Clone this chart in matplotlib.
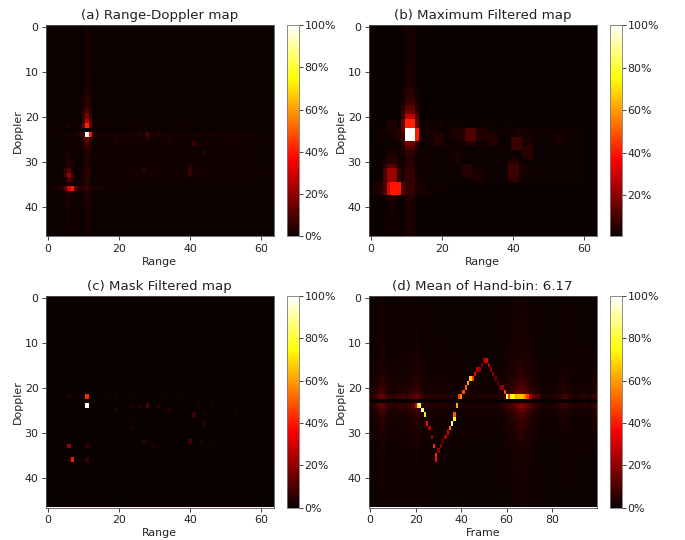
import numpy as np
import matplotlib
matplotlib.use("Agg")
import matplotlib.pyplot as plt

N_DOPPLER, N_RANGE, N_FRAME = 47, 64, 100

# Local peaks: doppler row, range column, percent
peak_rows = [22, 24, 33, 36, 33, 36, 22, 24, 24, 24, 24, 25, 25, 22, 22, 26, 24, 25, 24, 28,
             25, 29, 27, 32, 33, 32, 32, 32, 33, 36, 22, 22, 22]
peak_cols = [11, 11, 6, 7, 11, 11, 6, 28, 26, 24, 31, 34, 19, 19, 16, 41, 42, 44, 46, 44,
             53, 24, 24, 27, 30, 40, 43, 47, 54, 16, 38, 33, 24]
peak_vals = [42, 100, 22, 40, 7, 7, 3.5, 11, 4, 3, 4, 4, 4, 2, 1.6, 8, 3, 3, 2, 5,
             2.5, 2.5, 1.6, 4.5, 3.5, 8, 2.5, 1.6, 1.2, 1.2, 1.6, 1.6, 1.6]

# Non-peak cells of panel (a) around the peaks
extra_rows = [36, 36, 36, 36, 33, 32, 34, 32, 33, 34, 22, 22, 21, 25, 21, 26, 25, 24, 25, 31, 33, 32]
extra_cols = [6, 8, 5, 4, 5, 6, 6, 5, 7, 7, 10, 12, 11, 11, 10, 41, 28, 10, 12, 40, 40, 41]
extra_vals = [32, 10, 10, 4, 10, 12, 12, 5, 7, 6, 14, 14, 28, 16, 5, 4, 4.5, 8, 6, 4.5, 6, 2.5]

# Streak along range column 11, one value per doppler row
col11_profile = [2.5, 2.5, 2.5, 2.5, 2.5, 2.5, 2.5, 2.5, 2.5, 2.5, 3, 3, 3, 3, 3.5, 4.5, 5, 6, 8, 12, 17, 28, 42, 1.5,
                 100, 16, 10, 7, 5, 4.5, 4.5, 4.5, 5, 7, 5, 4.5, 7, 4.5, 3.5, 3.5, 3.5, 3, 3, 3, 3, 3, 3]
# Streak along range column 6
col6_rows = [26, 27, 28, 29, 30, 31, 37, 38, 39, 40, 41, 42, 43, 44, 45, 46]
col6_vals = [1.2, 1.5, 2, 3, 4, 5, 4, 2.5, 2.5, 2.5, 2, 2, 2, 1.6, 1.6, 1.6]
# Horizontal streaks
row36_cols = [0, 1, 2, 3, 9, 10, 12, 13, 14, 15, 16, 17, 18, 19, 20, 21]
row36_vals = [1.2, 1.5, 3, 3, 4, 4, 3, 2.5, 2.5, 2, 2, 1.6, 1.6, 1.4, 1.4, 1.2]
row24_cols = [2, 3, 4, 5, 6, 7, 8, 9, 13, 14, 15, 16, 17, 18, 19, 20, 21, 22, 23, 25, 27, 29, 30, 32, 33, 35, 36,
              37, 38, 39, 40, 41, 43, 45, 47, 48, 49, 50, 51, 52, 54, 55, 56, 57, 58]
row24_vals = [1.2, 1.5, 1.5, 1.5, 1.5, 2, 3, 4, 3, 2.5, 2, 2, 1.6, 1.6, 1.6, 1.6, 1.6, 1.6, 2, 2, 2, 2, 2, 2, 1.6, 1.6, 1.6,
              1.6, 1.6, 1.6, 1.6, 1.6, 1.6, 1.6, 1.6, 1.6, 1.2, 1.6, 1.6, 1.6, 1.6, 1.2, 1.2, 1.2, 1.2]
# Faint wash, range columns per doppler block
wash_rows = [25, 26, 27, 28, 29, 30, 31, 32, 33, 34, 35]
wash_vals = [2, 2, 1.6, 1.6, 1.6, 1.6, 1.6, 2, 2, 1.6, 1.4]
# Dark row under the strongest return
dark_row = 23
dark_cols = [4, 22]

# Panel (d): ridge of the hand-bin across frames
ridge_frames = [20, 21, 22, 23, 24, 25, 26, 27, 28, 29, 29, 30, 31, 32, 33, 34, 35, 36, 37, 37, 38,
                39, 40, 41, 42, 43, 44, 45, 46, 47, 48, 49, 50, 51, 52, 53, 54, 55, 56, 57, 58, 59,
                60, 61, 62, 63, 64, 65, 66, 67, 68, 69, 70, 71, 72, 73, 74]
ridge_rows = [24, 24, 24, 25, 26, 28, 29, 31, 33, 35, 36, 34, 33, 32, 31, 30, 29, 28, 27, 26, 24,
              22, 22, 21, 20, 19, 18, 18, 17, 16, 16, 15, 14, 14, 15, 16, 17, 18, 19, 20, 20, 21,
              22, 22, 22, 22, 22, 22, 22, 22, 22, 22, 22, 22, 22, 22, 22]
ridge_vals = [30, 72, 88, 92, 72, 38, 25, 22, 42, 42, 36, 20, 20, 16, 24, 32, 52, 88, 78, 50, 62,
              45, 58, 48, 50, 62, 68, 45, 36, 26, 22, 16, 22, 32, 26, 20, 20, 14, 16, 14, 20, 46,
              85, 48, 76, 74, 62, 66, 66, 66, 56, 45, 26, 18, 14, 12, 10]
# Vertical glow of panel (d)
glow_frames = [0, 3, 4, 5, 6, 7, 8, 10, 12, 14, 15, 16, 18, 19, 20, 21, 22, 23, 24, 40, 55, 58, 59, 60, 61, 62, 63, 64, 65,
               66, 67, 68, 69, 70, 71, 72, 73, 74, 75, 80, 82, 84, 85, 86, 87, 88, 90, 94, 97, 98, 99]
glow_vals = [2, 4, 6, 8, 7, 5, 3, 2, 3, 3, 4, 3, 5, 6, 7, 7, 5, 3, 2, 1, 1, 2, 3, 5, 5, 6, 7, 9, 10,
             12, 12, 10, 8, 6, 5, 4, 3, 2, 1, 1, 2, 3, 4, 4, 3, 2, 1, 2, 1, 3, 5]
# Weight of that glow on each doppler row
glow_weight = [.12, .12, .12, .12, .12, .14, .16, .16, .18, .18, .2, .22, .24, .26, .28, .32, .36, .42, .52, .66,
               .82, 1.1, 1.6, 0, 1.4, 1.1, .75, .6, .5, .42, .36, .32, .28, .25, .22, .2, .18, .16, .15, .14, .13,
               .12, .12, .1, .1, .1, .1]
# Band levels on the rows next to the dark row
band_rows = [22, 24]
band_vals = [1, 1]

TITLES = ["(a) Range-Doppler map", "(b) Maximum Filtered map", "(c) Mask Filtered map",
          "(d) Mean of Hand-bin: 6.17"]
XLABELS = ["Range", "Range", "Range", "Frame"]
YLABEL = "Doppler"
RANGE_TICKS = [0, 20, 40, 60]
FRAME_TICKS = [0, 20, 40, 60, 80]
DOPPLER_TICKS = [0, 10, 20, 30, 40]
CBAR_TICKS = [0, 20, 40, 60, 80, 100]
CBAR_TICKS_B = [20, 40, 60, 80, 100]

# Build panel (a)
a = np.full((N_DOPPLER, N_RANGE), 0.5)
for r in wash_rows:
    a[r, 15:60] = np.maximum(a[r, 15:60], wash_vals[r - wash_rows[0]] * 0.6)
a[:, 11] = col11_profile
for c in (10, 12):
    a[:, c] = np.array(col11_profile) * 0.4
a[col6_rows, 6] = col6_vals
a[col6_rows, 5] = np.array(col6_vals) * 0.5
a[col6_rows, 7] = np.array(col6_vals) * 0.5
a[36, row36_cols] = row36_vals
a[24, row24_cols] = row24_vals
a[dark_row, dark_cols[0]:dark_cols[1]] = 0.1
a[extra_rows, extra_cols] = extra_vals
a[peak_rows, peak_cols] = peak_vals

# Panel (b): 3 x 3 maximum filter of (a)
pad = np.pad(a, 1, mode="edge")
b = np.max(np.lib.stride_tricks.sliding_window_view(pad, (3, 3)), axis=(2, 3))

# Panel (c): only the peaks survive the mask
c = np.full_like(a, 0.1)
c[peak_rows, peak_cols] = peak_vals

# Panel (d)
glow = np.interp(np.arange(N_FRAME), glow_frames, glow_vals)
d = np.outer(np.array(glow_weight), glow) + 0.5
d[band_rows] += np.array(band_vals)[:, None]
d[dark_row, :] = 0
d[ridge_rows, ridge_frames] = ridge_vals

fig = plt.figure(figsize=(6.85, 5.4), dpi=100)
W, H = 685.0, 540.0
lefts = [46, 369]
cbar_lefts = [287, 610]
tops = [25, 296]
AX_W, AX_H, CB_W = 227.5, 211.5, 12

panels = [a, b, c, d]
for i, data in enumerate(panels):
    col, row = i % 2, i // 2
    ax = fig.add_axes([lefts[col] / W, 1 - (tops[row] + AX_H) / H, AX_W / W, AX_H / H])
    im = ax.imshow(data, cmap="hot", aspect="auto", vmin=(data.min() if i == 1 else 0), vmax=100,
                   interpolation="nearest")
    ax.set_title(TITLES[i], fontsize=9.6, pad=4, color="#222222")
    ax.set_xlabel(XLABELS[i], fontsize=7.9, labelpad=2, color="#222222")
    ax.set_ylabel(YLABEL, fontsize=7.9, labelpad=1, color="#222222")
    ax.set_xticks(FRAME_TICKS if i == 3 else RANGE_TICKS)
    ax.set_yticks(DOPPLER_TICKS)
    ax.tick_params(labelsize=7.9, length=2.8, width=0.6, pad=2.5, colors="#222222")
    for s in ax.spines.values():
        s.set_linewidth(0.6)
        s.set_color("#555555")
    cax = fig.add_axes([cbar_lefts[col] / W, 1 - (tops[row] + AX_H) / H, CB_W / W, AX_H / H])
    cb = fig.colorbar(im, cax=cax)
    cb.set_ticks(CBAR_TICKS_B if i == 1 else CBAR_TICKS)
    cb.set_ticklabels([f"{t}%" for t in (CBAR_TICKS_B if i == 1 else CBAR_TICKS)])
    cb.ax.tick_params(labelsize=7.9, length=2.8, width=0.6, pad=1.2, colors="#222222")
    cb.outline.set_linewidth(0.6)
    cb.outline.set_edgecolor("#777777")

fig.savefig("out.png", dpi=100)
